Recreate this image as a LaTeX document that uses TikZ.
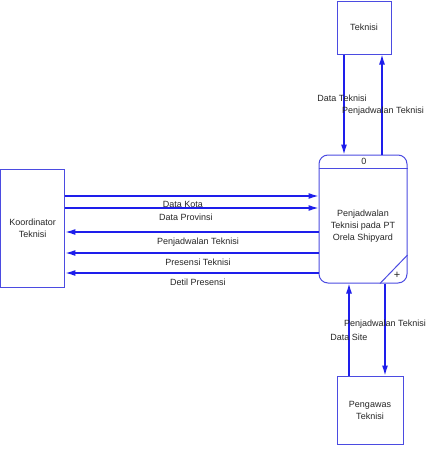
\documentclass[tikz,border=0pt]{standalone}
\usepackage{fontspec}
\setmainfont{Liberation Sans}
\usetikzlibrary{arrows.meta}
\definecolor{flowblue}{RGB}{30,30,235}
\definecolor{boxblue}{RGB}{75,75,225}
\tikzset{
    every node/.style={font=\fontsize{9}{12}\selectfont, text=black!85}
}
\tikzset{
    entity/.style={draw=boxblue, line width=1pt, align=center, inner sep=0pt},
    flow/.style={draw=flowblue, line width=1.2pt, -{Latex[length=10pt,width=6pt]}},
    lbl/.style={inner sep=0pt}
}

\begin{document}
\begin{tikzpicture}[x=1pt,y=-1pt]
  \useasboundingbox (0,0) rectangle (431,453);
  \node (tek) [entity, minimum width=54pt, minimum height=53pt] at (364,27.5) {Teknisi};
  \node (koor) [entity, minimum width=64.5pt, minimum height=118pt] at (32.7,228) {Koordinator\\Teknisi};
  \node (peng) [entity, minimum width=66pt, minimum height=68pt] at (370,410) {Pengawas\\Teknisi};
  \node (proc) [entity, rounded corners=9pt, minimum width=88pt, minimum height=128pt] at (363,219) {};
  \node (procname) [align=center, lbl] at (363,226) {Penjadwalan\\Teknisi pada PT\\Orela Shipyard};
  \node (procid) [lbl] at (364,161) {0};
  \node (plus) [lbl, font=\fontsize{11}{11}\selectfont] at (397,275) {+};
  \draw[boxblue, line width=1pt] (proc.west |- 0,168) -- (proc.east |- 0,168);
  \draw[boxblue, line width=1pt] (proc.south -| 380,0) -- (proc.east |- 0,255);

  % Teknisi
  \draw[flow] (tek.south -| 344,0) -- (proc.north -| 344,0);
  \draw[flow] (proc.north -| 382,0) -- (tek.south -| 382,0);
  \node (l1) [lbl] at (342,98) {Data Teknisi};
  \node (l2) [lbl] at (383,111) {Penjadwalan Teknisi};

  % Koordinator
  \draw[flow] (koor.east |- 0,196) -- (proc.west |- 0,196);
  \draw[flow] (koor.east |- 0,208) -- (proc.west |- 0,208);
  \draw[flow] (proc.west |- 0,232) -- (koor.east |- 0,232);
  \draw[flow] (proc.west |- 0,253) -- (koor.east |- 0,253);
  \draw[flow] (proc.west |- 0,273) -- (koor.east |- 0,273);
  \node (l3) [lbl] at (183,204) {Data Kota};
  \node (l4) [lbl] at (186,217) {Data Provinsi};
  \node (l5) [lbl] at (198,242) {Penjadwalan Teknisi};
  \node (l6) [lbl] at (198,262) {Presensi Teknisi};
  \node (l7) [lbl] at (198,282) {Detil Presensi};

  % Pengawas
  \draw[flow] (peng.north -| 349,0) -- (proc.south -| 349,0);
  \draw[flow] (proc.south -| 385,0) -- (peng.north -| 385,0);
  \node (l8) [lbl] at (385,324) {Penjadwalan Teknisi};
  \node (l9) [lbl] at (349,337) {Data Site};
\end{tikzpicture}
\end{document}
